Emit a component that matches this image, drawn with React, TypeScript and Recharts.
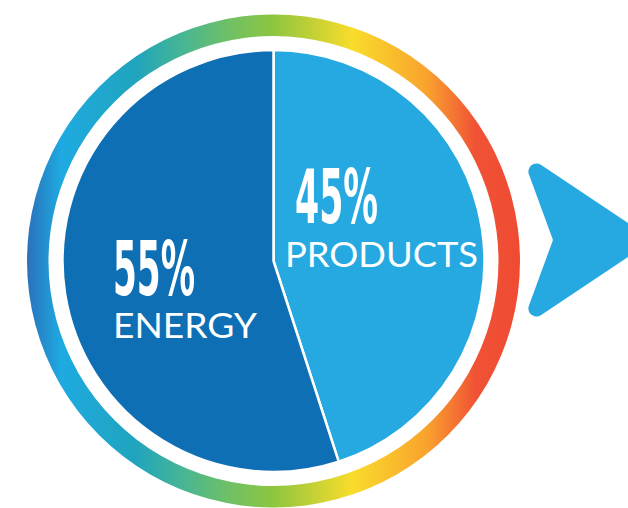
import React from 'react';
import { PieChart, Pie, Cell } from 'recharts';

const SEGMENTS = ['PRODUCTS', 'ENERGY'];
const SHARES = [45, 55];
const SEGMENT_COLORS = ['#25a9e0', '#0e6fb5'];
const RING = [{ name: 'ring', value: 100 }];

const pieData = SEGMENTS.map((name, i) => ({ name, value: SHARES[i], color: SEGMENT_COLORS[i] }));

// label placement relative to the pie centre
const LABEL_LAYOUT: Record<string, { dx: number; pctY: number; pctW: number; nameDx: number; nameY: number; nameW: number }> = {
  PRODUCTS: { dx: 21.5, pctY: -38, pctW: 83, nameDx: 11.5, nameY: 6, nameW: 193 },
  ENERGY: { dx: -160.5, pctY: 34, pctW: 82, nameDx: -160.5, nameY: 77, nameW: 144 },
};

const renderLabel = ({ cx, cy, name, value }: any) => {
  const l = LABEL_LAYOUT[name];
  if (!l) return null;
  return (
    <g>
      <text
        x={cx + l.dx}
        y={cy + l.pctY}
        fill="#fff"
        fontFamily="'DejaVu Sans Condensed', 'DejaVu Sans'"
        fontWeight="bold"
        fontSize={75}
        textLength={l.pctW}
        lengthAdjust="spacingAndGlyphs"
        textAnchor="start"
      >
        {`${value}%`}
      </text>
      <text
        x={cx + l.nameDx}
        y={cy + l.nameY}
        fill="#fff"
        fontFamily="Lato, 'Open Sans', sans-serif"
        fontSize={35}
        textLength={l.nameW}
        lengthAdjust="spacingAndGlyphs"
        textAnchor="start"
      >
        {name}
      </text>
    </g>
  );
};

export default function App() {
  return (
    <div style={{ position: 'absolute', left: 0, top: 0, width: 628, height: 508, background: '#fff', overflow: 'hidden' }}>
      <PieChart width={628} height={508} margin={{ top: 0, right: 0, bottom: 0, left: 0 }}>
        <defs>
          <linearGradient id="ringGrad" x1="0" y1="0" x2="1" y2="0">
            <stop offset="0%" stopColor="#2a72ba" />
            <stop offset="7%" stopColor="#1eaae1" />
            <stop offset="22%" stopColor="#20a4bd" />
            <stop offset="31%" stopColor="#45b596" />
            <stop offset="40%" stopColor="#6cbf6a" />
            <stop offset="50%" stopColor="#8dc63f" />
            <stop offset="66%" stopColor="#f9dc2b" />
            <stop offset="81%" stopColor="#f9a32e" />
            <stop offset="91%" stopColor="#f05235" />
            <stop offset="100%" stopColor="#ef4b33" />
          </linearGradient>
        </defs>
        <Pie
          data={RING}
          dataKey="value"
          cx={273.5}
          cy={261}
          innerRadius={225}
          outerRadius={246.5}
          startAngle={90}
          endAngle={-270}
          stroke="none"
          fill="url(#ringGrad)"
          isAnimationActive={false}
        />
        <Pie
          data={pieData}
          dataKey="value"
          nameKey="name"
          cx={273.5}
          cy={261}
          innerRadius={0}
          outerRadius={211}
          startAngle={90}
          endAngle={-270}
          stroke="#fff"
          strokeWidth={2.5}
          labelLine={false}
          label={renderLabel}
          isAnimationActive={false}
        >
          {pieData.map((d, i) => (
            <Cell key={`cell-${i}`} fill={d.color} />
          ))}
        </Pie>
      </PieChart>
      <svg width={628} height={508} style={{ position: 'absolute', left: 0, top: 0, pointerEvents: 'none' }}>
        <polygon
          points="536.4,171.5 639,240 536.4,308.5 561.5,240"
          fill="#25a9e0"
          stroke="#25a9e0"
          strokeWidth={16}
          strokeLinejoin="round"
        />
      </svg>
    </div>
  );
}
